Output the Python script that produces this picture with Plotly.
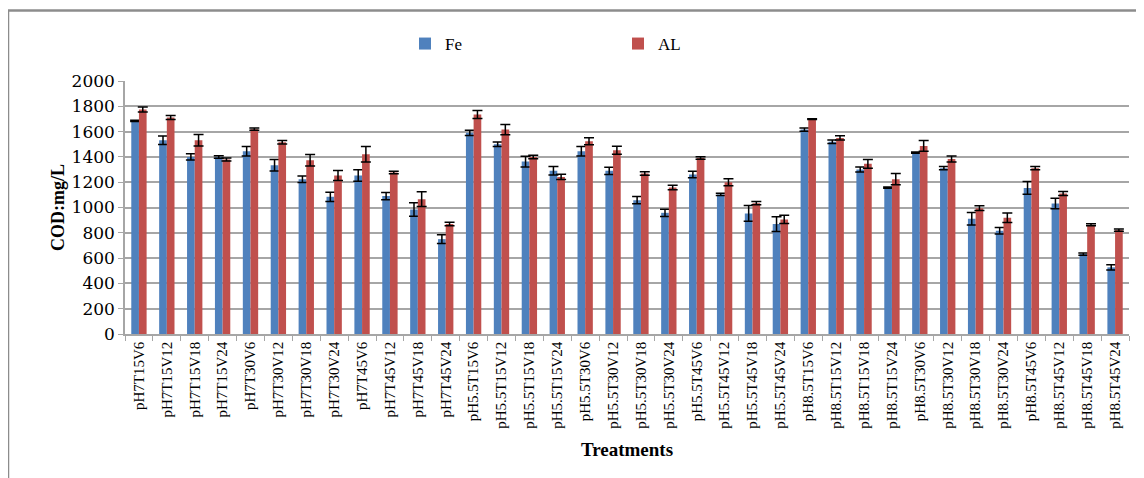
import plotly.graph_objects as go

categories = [
    "pH7T15V6", "pH7T15V12", "pH7T15V18", "pH7T15V24",
    "pH7T30V6", "pH7T30V12", "pH7T30V18", "pH7T30V24",
    "pH7T45V6", "pH7T45V12", "pH7T45V18", "pH7T45V24",
    "pH5.5T15V6", "pH5.5T15V12", "pH5.5T15V18", "pH5.5T15V24",
    "pH5.5T30V6", "pH5.5T30V12", "pH5.5T30V18", "pH5.5T30V24",
    "pH5.5T45V6", "pH5.5T45V12", "pH5.5T45V18", "pH5.5T45V24",
    "pH8.5T15V6", "pH8.5T15V12", "pH8.5T15V18", "pH8.5T15V24",
    "pH8.5T30V6", "pH8.5T30V12", "pH8.5T30V18", "pH8.5T30V24",
    "pH8.5T45V6", "pH8.5T45V12", "pH8.5T45V18", "pH8.5T45V24",
]

fe_values = [1684, 1532, 1400, 1400, 1445, 1334, 1224, 1084, 1253, 1090, 984, 750,
             1590, 1500, 1363, 1290, 1445, 1290, 1058, 958, 1261, 1103, 953, 869,
             1616, 1519, 1300, 1158, 1434, 1311, 911, 816, 1155, 1032, 632, 527]
fe_errors = [5, 33, 24, 10, 37, 45, 26, 37, 45, 29, 53, 34,
             20, 17, 43, 34, 38, 29, 29, 29, 26, 9, 62, 58,
             13, 14, 20, 5, 5, 13, 50, 26, 50, 41, 9, 21]

al_values = [1774, 1711, 1532, 1379, 1619, 1516, 1374, 1253, 1421, 1277, 1066, 869,
             1735, 1616, 1400, 1242, 1524, 1453, 1269, 1158, 1392, 1200, 1034, 906,
             1698, 1550, 1345, 1224, 1487, 1384, 995, 919, 1311, 1111, 863, 821]
al_errors = [20, 16, 46, 12, 9, 14, 45, 39, 62, 10, 58, 14,
             32, 41, 14, 20, 28, 32, 14, 18, 10, 28, 13, 33,
             3, 17, 34, 45, 43, 24, 18, 38, 13, 16, 8, 9]

y_ticks = [0, 200, 400, 600, 800, 1000, 1200, 1400, 1600, 1800, 2000]

FE_COLOR = "#4F81BD"
AL_COLOR = "#C0504D"
SERIF = "Liberation Serif, Times New Roman, serif"

fig = go.Figure()
fig.add_trace(go.Bar(
    name="Fe", x=categories, y=fe_values, marker_color=FE_COLOR, marker_line_width=0,
    error_y=dict(type="data", array=fe_errors, visible=True, color="#000000",
                 thickness=1.5, width=5),
))
fig.add_trace(go.Bar(
    name="AL", x=categories, y=al_values, marker_color=AL_COLOR, marker_line_width=0,
    error_y=dict(type="data", array=al_errors, visible=True, color="#000000",
                 thickness=1.5, width=5),
))

# page body has an 8px margin, so the figure starts at (8, 8) in the window
OFF = 8
W, H = 1144 - OFF, 478 - OFF
L, R, T, B = 125 - OFF, 15, 81 - OFF, 144
pw = W - L - R
ph = H - T - B


def px_x(px):
    # px given in window coordinates
    return (px - OFF - L) / pw


def px_y(py):
    return (H - B - (py - OFF)) / ph


fig.update_layout(
    width=W, height=H,
    margin=dict(l=L, r=R, t=T, b=B),
    paper_bgcolor="white", plot_bgcolor="white",
    barmode="group", bargap=0.45, bargroupgap=0,
    font=dict(family=SERIF, color="#000000"),
    showlegend=True,
    legend=dict(
        orientation="h", x=px_x(405), y=px_y(44), xanchor="left", yanchor="middle",
        font=dict(family=SERIF, size=17, color="#000000"),
        entrywidth=168, entrywidthmode="pixels", itemwidth=30,
        bgcolor="rgba(0,0,0,0)",
    ),
    xaxis=dict(
        type="category", tickangle=-90,
        tickfont=dict(family=SERIF, size=15, color="#000000"),
        showline=True, linecolor="#A6A6A6", linewidth=1.5,
        ticks="outside", ticklen=5, tickcolor="#A6A6A6", tickson="boundaries",
        showgrid=False,
        title=dict(text="<b>Treatments</b>", font=dict(family=SERIF, size=19, color="#000000"),
                   standoff=15),
    ),
    yaxis=dict(
        range=[0, 2000], tickvals=y_ticks,
        tickfont=dict(family="DejaVu Serif, serif", size=17, color="#000000"),
        showline=True, linecolor="#A6A6A6", linewidth=1.5,
        ticks="outside", ticklen=5, tickcolor="#A6A6A6",
        showgrid=True, gridcolor="#A6A6A6", gridwidth=1.5,
        zeroline=False,
        title=dict(text="<b>COD:mg/L</b>", font=dict(family=SERIF, size=18, color="#000000"),
                   standoff=2),
    ),
    shapes=[
        dict(type="line", xref="paper", yref="paper", x0=px_x(8), x1=px_x(1150),
             y0=px_y(10.5), y1=px_y(10.5), line=dict(color="#8C8C8C", width=2.5)),
        dict(type="line", xref="paper", yref="paper", x0=px_x(8), x1=px_x(8),
             y0=px_y(10.5), y1=px_y(485), line=dict(color="#8C8C8C", width=2.5)),
    ],
)

fig.write_html("out.html")
